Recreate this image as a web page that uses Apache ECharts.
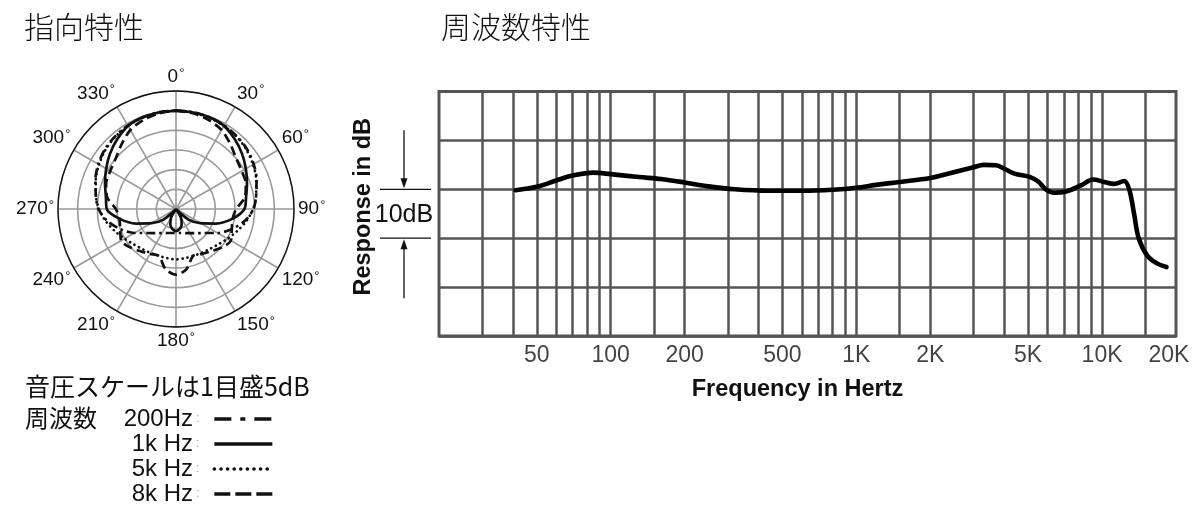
<!DOCTYPE html>
<html>
<head>
<meta charset="utf-8">
<script src="https://cdn.jsdelivr.net/npm/echarts@6/dist/echarts.min.js"></script>
<style>html,body{margin:0;padding:0;background:#fff}#c{width:1200px;height:510px}</style>
</head>
<body>
<div id="c"></div>
<script>
// ---------- Polar pattern (dB relative to on-axis), angles in degrees ----------
const polarAngles = [0,10,20,30,40,50,60,70,80,90,100,110,120,130,140,150,160,170,180,
                     190,200,210,220,230,240,250,260,270,280,290,300,310,320,330,340,350,360];
const pattern200Hz = [0,0,-0.2,-0.5,-0.9,-1.4,-2.2,-3.2,-4.3,-5.3,-7.3,-10.0,-12.8,-15.5,-17.0,-17.9,-18.5,-18.8,-18.9,
                      -18.8,-18.5,-17.9,-17.0,-15.5,-12.8,-10.0,-7.3,-5.3,-4.3,-3.2,-2.2,-1.4,-0.9,-0.5,-0.2,0,0];
const pattern1kHz  = [0,-0.1,-0.2,-0.6,-1.8,-3.1,-4.5,-5.8,-6.9,-7.6,-10.5,-14.2,-17.8,-20.7,-25,-22.5,-20.8,-19.8,-19.4,
                      -19.8,-20.8,-22.5,-25,-20.7,-17.8,-14.2,-10.5,-7.4,-6.9,-5.8,-4.5,-3.1,-1.8,-0.6,-0.2,-0.1,0];
const pattern5kHz  = [0,-0.1,-0.3,-0.6,-1.0,-1.6,-2.4,-3.3,-4.3,-5.4,-6.9,-8.5,-9.9,-11.0,-11.7,-12.1,-12.3,-12.3,-12.2,
                      -12.3,-12.3,-12.1,-11.7,-11.0,-9.9,-8.5,-6.9,-5.4,-4.3,-3.3,-2.4,-1.6,-1.0,-0.6,-0.3,-0.1,0];
const pattern8kHz  = [0,-0.3,-0.9,-1.8,-3.5,-5.0,-5.7,-6.1,-7.2,-9.7,-10.4,-9.9,-8.9,-9.8,-11.0,-11.8,-12.3,-9.5,-8.3,
                      -9.5,-12.3,-11.8,-11.0,-9.8,-8.9,-9.9,-10.4,-9.7,-7.2,-6.1,-5.7,-5.0,-3.5,-1.8,-0.9,-0.3,0];
const polarNames = ['200Hz', '1k Hz', '5k Hz', '8k Hz'];

// ---------- Frequency response ----------
const respFreq = [41,50,60,70,85,100,130,160,200,250,320,440,600,800,1000,1200,1500,2000,2400,3000,3300,3700,4000,4400,
                  5100,5500,5900,6400,7200,8200,9200,10200,11200,12300,12900,13500,14100,15300,16800,18300];
const respDb   = [-0.2,0.5,1.8,2.8,3.4,3.1,2.5,2.1,1.4,0.6,0.0,-0.3,-0.3,-0.1,0.3,0.9,1.5,2.3,3.3,4.5,5.0,4.9,4.2,3.2,
                  2.5,1.6,0.0,-0.7,-0.4,0.8,2.0,1.5,1.1,1.7,0.0,-5.0,-10.0,-13.6,-15.2,-15.9];
const freqGridLines = [30,40,50,60,70,80,90,100,150,200,300,400,500,600,700,800,900,
                       1000,1500,2000,3000,4000,5000,6000,7000,8000,9000,10000,15000];
const tickFreqs  = [50,100,200,500,1000,2000,5000,10000,20000];
const tickLabels = ['50','100','200','500','1K','2K','5K','10K','20K'];

const LAT = '"Liberation Sans", "Noto Sans CJK JP", sans-serif';
const JP = '"Noto Sans CJK JP", "Liberation Sans", sans-serif';
const INK = '#111';
const GRID = '#555';

const chart = echarts.init(document.getElementById('c'), null, {renderer: 'canvas'});

const polarDash = {
  '200Hz': {series: [9, 4, 2.5, 4], legend: [17, 9, 5, 9], cap: 'butt'},
  '1k Hz': {series: 'solid', legend: 'solid', cap: 'butt'},
  '5k Hz': {series: [0.1, 5], legend: [0.1, 6.5], cap: 'round'},
  '8k Hz': {series: [9, 5], legend: [16, 5], cap: 'butt'}
};

function polarSeries(name, values) {
  const d = polarDash[name];
  return {
    type: 'line', name: name, coordinateSystem: 'polar', polarIndex: 0,
    data: polarAngles.map((a, i) => [values[i], a]),
    smooth: 0.3, symbol: 'none', showSymbol: false, silent: true,
    lineStyle: {color: INK, width: 2.7, type: d.series, cap: d.cap},
    itemStyle: {color: INK},
    z: 5
  };
}

const option = {
  animation: false,
  textStyle: {fontFamily: LAT},
  polar: {center: [176, 209], radius: 118},
  angleAxis: {
    type: 'value', min: 0, max: 360, interval: 30, startAngle: 90, clockwise: true,
    axisLine: {show: true, lineStyle: {color: INK, width: 1.3}},
    axisTick: {show: false},
    axisLabel: {show: true, margin: 4, color: INK, fontFamily: LAT,
      formatter: v => (v === 360 ? '' : '{a|' + v + '}{b|°}'),
      rich: {
        a: {fontSize: 19, color: INK, fontFamily: LAT},
        b: {fontSize: 13, color: INK, fontFamily: LAT, padding: [0, 0, 7, 1]}
      }
    },
    splitLine: {show: true, lineStyle: {color: '#9a9a9a', width: 1.6}}
  },
  radiusAxis: {
    type: 'value', min: -25, max: 5, interval: 5,
    axisLine: {show: false}, axisTick: {show: false}, axisLabel: {show: false},
    splitLine: {show: true, lineStyle: {color: '#9a9a9a', width: 1.6}}
  },
  grid: {left: 439, top: 91.5, width: 737, height: 244.5, show: true,
         borderColor: GRID, borderWidth: 3, backgroundColor: 'transparent', outerBoundsMode: 'none'},
  xAxis: {
    type: 'log', logBase: 10, min: 20, max: 20000,
    axisLine: {show: false}, axisTick: {show: false}, axisLabel: {show: false}, splitLine: {show: false},
    name: 'Frequency in Hertz', nameLocation: 'middle', nameGap: 42,
    nameTextStyle: {fontSize: 23.5, fontWeight: 'bold', color: INK, fontFamily: LAT, padding: [0, 20, 0, 0]}
  },
  yAxis: {
    type: 'value', min: -30, max: 20, interval: 10,
    axisLine: {show: false}, axisTick: {show: false}, axisLabel: {show: false},
    splitLine: {show: true, lineStyle: {color: GRID, width: 2.5}},
    name: 'Response in dB', nameLocation: 'middle', nameGap: 64, nameRotate: 90,
    nameTextStyle: {fontSize: 23.5, fontWeight: 'bold', color: INK, fontFamily: LAT, padding: [0, 0, 0, 14]}
  },
  legend: {
    data: polarNames.map(n => ({
      name: n,
      itemStyle: {opacity: 0, borderWidth: 0},
      lineStyle: {color: INK, width: 3.6, type: polarDash[n].legend, cap: polarDash[n].cap}
    })),
    orient: 'vertical', left: 99, top: 407, padding: 0,
    align: 'right', itemWidth: 58, itemHeight: 12, itemGap: 1, selectedMode: false,
    formatter: n => '{n|' + n + '}{c|:}',
    textStyle: {
      rich: {
        n: {fontSize: 24, width: 94, align: 'right', color: INK, fontFamily: LAT, lineHeight: 24},
        c: {fontSize: 12, color: '#aaa', lineHeight: 24, padding: [0, 10, 0, 3]}
      }
    }
  },
  series: [
    polarSeries('200Hz', pattern200Hz),
    polarSeries('1k Hz', pattern1kHz),
    polarSeries('5k Hz', pattern5kHz),
    polarSeries('8k Hz', pattern8kHz),
    {
      type: 'line', name: 'gridlines', data: [], silent: true, z: 1,
      markLine: {
        silent: true, symbol: ['none', 'none'], label: {show: false}, animation: false,
        lineStyle: {color: GRID, width: 2.5, type: 'solid'},
        emphasis: {disabled: true},
        data: freqGridLines.map(f => ({xAxis: f}))
      }
    },
    {
      type: 'line', name: 'Response', data: respFreq.map((f, i) => [f, respDb[i]]),
      smooth: 0.35, symbol: 'none', showSymbol: false, silent: true, z: 6,
      lineStyle: {color: '#000', width: 4.6, cap: 'round', join: 'round'}
    },
    {
      type: 'scatter', name: 'ticks', symbolSize: 0, clip: false, silent: true, z: 3,
      data: tickFreqs.map((f, i) => ({
        value: [f, -30],
        label: i === tickFreqs.length - 1 ? {offset: [-7, 0]} : {}
      })),
      label: {show: true, position: 'bottom', distance: 8, fontSize: 23, color: INK, fontFamily: LAT,
              formatter: p => tickLabels[p.dataIndex]}
    }
  ]
};
chart.setOption(option);

// annotation (10 dB bracket) positioned through the y axis scale
const p0 = chart.convertToPixel({gridIndex: 0}, [20, 0]);
const p10 = chart.convertToPixel({gridIndex: 0}, [20, -10]);
const y0 = p0[1], y1 = p10[1], gx = p0[0];
const ax = gx - 35, lx0 = gx - 59, lx1 = gx - 8;
const lineStyle = {stroke: INK, lineWidth: 1.3};
chart.setOption({
  graphic: [
    {type: 'text', left: 24, top: 12, style: {text: '指向特性', font: '300 30px ' + JP, fill: INK}},
    {type: 'text', left: 441, top: 12, style: {text: '周波数特性', font: '300 30px ' + JP, fill: INK}},
    {type: 'text', left: 25, top: 374, style: {text: '音圧スケールは1目盛5dB', font: '400 25px ' + JP, fill: INK}},
    {type: 'text', left: 25, top: 406, style: {text: '周波数', font: '400 24px ' + JP, fill: INK}},
    {type: 'line', shape: {x1: lx0, y1: y0, x2: lx1, y2: y0}, style: lineStyle},
    {type: 'line', shape: {x1: lx0, y1: y1, x2: lx1, y2: y1}, style: lineStyle},
    {type: 'line', shape: {x1: ax, y1: y0 - 59, x2: ax, y2: y0 - 6}, style: lineStyle},
    {type: 'polygon', shape: {points: [[ax, y0 - 1], [ax - 3.5, y0 - 11], [ax + 3.5, y0 - 11]]}, style: {fill: INK}},
    {type: 'line', shape: {x1: ax, y1: y1 + 60, x2: ax, y2: y1 + 6}, style: lineStyle},
    {type: 'polygon', shape: {points: [[ax, y1 + 1], [ax - 3.5, y1 + 11], [ax + 3.5, y1 + 11]]}, style: {fill: INK}},
    {type: 'text', x: ax, y: (y0 + y1) / 2 + 1,
     style: {text: '10dB', font: '400 25px ' + LAT, fill: INK, align: 'center', verticalAlign: 'middle'}}
  ]
});
</script>
</body>
</html>
